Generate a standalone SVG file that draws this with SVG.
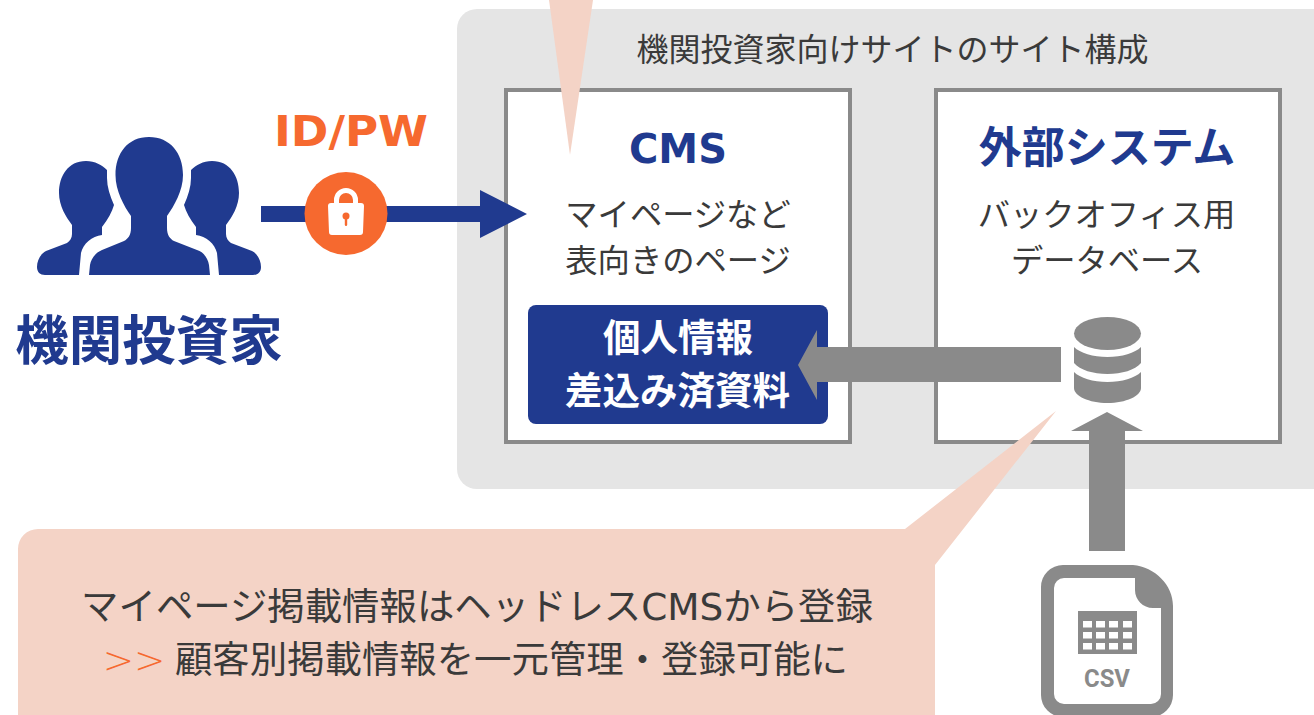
<svg xmlns="http://www.w3.org/2000/svg" width="1314" height="715" viewBox="0 0 1314 715">
<style>
text{font-family:"DejaVu Sans","Noto Sans CJK JP",sans-serif;text-anchor:middle;fill:#3a3a3a}
.r{font-size:32.3px}
.h{font-weight:700;fill:#203a8f}
.w{font-weight:700;font-size:37.5px;fill:#fff}
.c{font-size:37.4px}
.box{fill:#fff;stroke:#8a8a8a;stroke-width:4}
.g{fill:#8a8a8a}
.n{fill:#203a8f}
.p{fill:#f4d3c6}
.o{fill:#f6692f}
.cell{fill:#fff;width:9px;height:6.500px}
</style>
<rect width="1314" height="715" fill="#fff"/>
<g id="panel"><rect x="457" y="9" width="877" height="480" rx="20" fill="#e5e5e5"/>
<text class="r" x="892.500" y="61" style="font-size:32px">機関投資家向けサイトのサイト構成</text></g>
<g id="cms"><rect class="box" x="506" y="90" width="344" height="352"/>
<text class="h" x="678" y="163" font-size="40">CMS</text>
<text class="r" x="678" y="226">マイページなど</text>
<text class="r" x="678" y="272">表向きのページ</text></g>
<g id="ext"><rect class="box" x="936" y="90" width="344" height="352"/>
<text class="h" x="1107" y="163" font-size="43">外部システム</text>
<text class="r" x="1106.500" y="226">バックオフィス用</text>
<text class="r" x="1107" y="272">データベース</text></g>
<g id="personal"><rect class="n" x="528" y="305" width="300" height="119" rx="8"/>
<text class="w" x="678" y="351">個人情報</text>
<text class="w" x="677.500" y="404">差込み済資料</text></g>
<g id="connectors">
<path class="n" d="M261 206H480V190L527 214L480 238V222H261Z"/>
<path class="g" d="M1061 347H817V330L798 365L817 400V382H1061Z"/>
<path class="g" d="M1107 412L1143 431H1125V551H1089V431H1071Z"/>
</g>
<g id="callout-top"><path class="p" d="M549 0H593L570 155Z"/></g>
<g id="callout"><path class="p" d="M38 529H905L1056 411L935 565V715H18V549A20 20 0 0 1 38 529Z"/>
<text class="c" x="477" y="620">マイページ掲載情報はヘッドレスCMSから登録</text>
<text class="c" x="134" y="673" style="fill:#f6692f;font-weight:200">&gt;&gt;</text>
<text class="c" x="511.500" y="673">顧客別掲載情報を一元管理・登録可能に</text></g>
<g id="investor">
<path class="n" d="M86 161C68 161 59 176 59 193C59 206 66 217 72 225V234C72 238 70 241 67 243L46 251C40 254 37 261 37 267C37 272 40 275 45 275H79L81 253C83 244 92 236 102 235V227C108 219 112 212 114 205C110 196 107 187 107 178V170C102 165 95 161 86 161Z"/>
<path class="n" d="M212 161C230 161 239 176 239 193C239 206 232 217 226 225V234C226 238 228 241 231 243L252 251C258 254 261 261 261 267C261 272 258 275 253 275H219L217 253C215 244 206 236 196 235V227C190 219 186 212 184 205C188 196 191 187 191 178V170C196 165 203 161 212 161Z"/>
<path class="n" d="M149 137C128 137 115.500 153 115.500 175C115.500 191 124 206 131 216V228C131 235 128 239 124 241L102 250C95 253 91 259 90 265L89 275H210L209 265C208 259 204 252 197 250L174 241C170 239 167 235 167 228V216C174 206 183 191 183 175C183 153 170 137 149 137Z"/>
<text class="h" x="149" y="360" font-size="53.500">機関投資家</text>
</g>
<g id="idpw"><text style="fill:#f6692f;font-weight:700" x="351" y="146" font-size="43" textLength="154" lengthAdjust="spacingAndGlyphs">ID/PW</text>
<circle class="o" cx="346" cy="213.500" r="41.500"/>
<path d="M334 203V200A12 12 0 0 1 358 200V203H361A3 3 0 0 1 364 206L363 232A3 3 0 0 1 360 235H332A3 3 0 0 1 329 232L328 206A3 3 0 0 1 331 203ZM339 203H353V200A7 7 0 0 0 339 200Z" fill="#fff" fill-rule="evenodd"/>
<circle class="o" cx="346" cy="216" r="3.500"/><rect class="o" x="344.800" y="216" width="2.400" height="10" rx="1.200"/>
</g>
<g id="db">
<ellipse class="g" cx="1107.500" cy="333.500" rx="33.500" ry="16.500"/>
<path class="g" d="M1074 347C1080 353 1093 357 1107.500 357C1122 357 1135 353 1141 347V363C1135 370 1122 374 1107.500 374C1093 374 1080 370 1074 363Z"/>
<path class="g" d="M1074 372C1080 378 1093 382 1107.500 382C1122 382 1135 378 1141 372V388C1141 396 1126 403 1107.500 403C1089 403 1074 396 1074 388Z"/>
</g>
<g id="csv">
<path class="g" fill-rule="evenodd" d="M1063 565H1133C1155 567 1173 585 1173 606V695A22 22 0 0 1 1151 717H1063A22 22 0 0 1 1041 695V587A22 22 0 0 1 1063 565ZM1064 578A10 10 0 0 0 1054 588V694A10 10 0 0 0 1064 704H1151A10 10 0 0 0 1161 694V608H1153C1143 608 1135 600 1135 590V578Z"/>
<rect class="g" x="1078" y="611" width="59" height="43"/>
<g>
<rect class="cell" x="1083" y="621"/><rect class="cell" x="1096" y="621"/><rect class="cell" x="1109" y="621"/><rect class="cell" x="1123" y="621"/>
<rect class="cell" x="1083" y="632"/><rect class="cell" x="1096" y="632"/><rect class="cell" x="1109" y="632"/><rect class="cell" x="1123" y="632"/>
<rect class="cell" x="1083" y="643"/><rect class="cell" x="1096" y="643"/><rect class="cell" x="1109" y="643"/><rect class="cell" x="1123" y="643"/>
</g>
<text x="1107" y="687" style="font-family:Roboto,sans-serif;font-weight:700;fill:#8a8a8a" font-size="26.500" textLength="46" lengthAdjust="spacingAndGlyphs">CSV</text>
</g>
</svg>
